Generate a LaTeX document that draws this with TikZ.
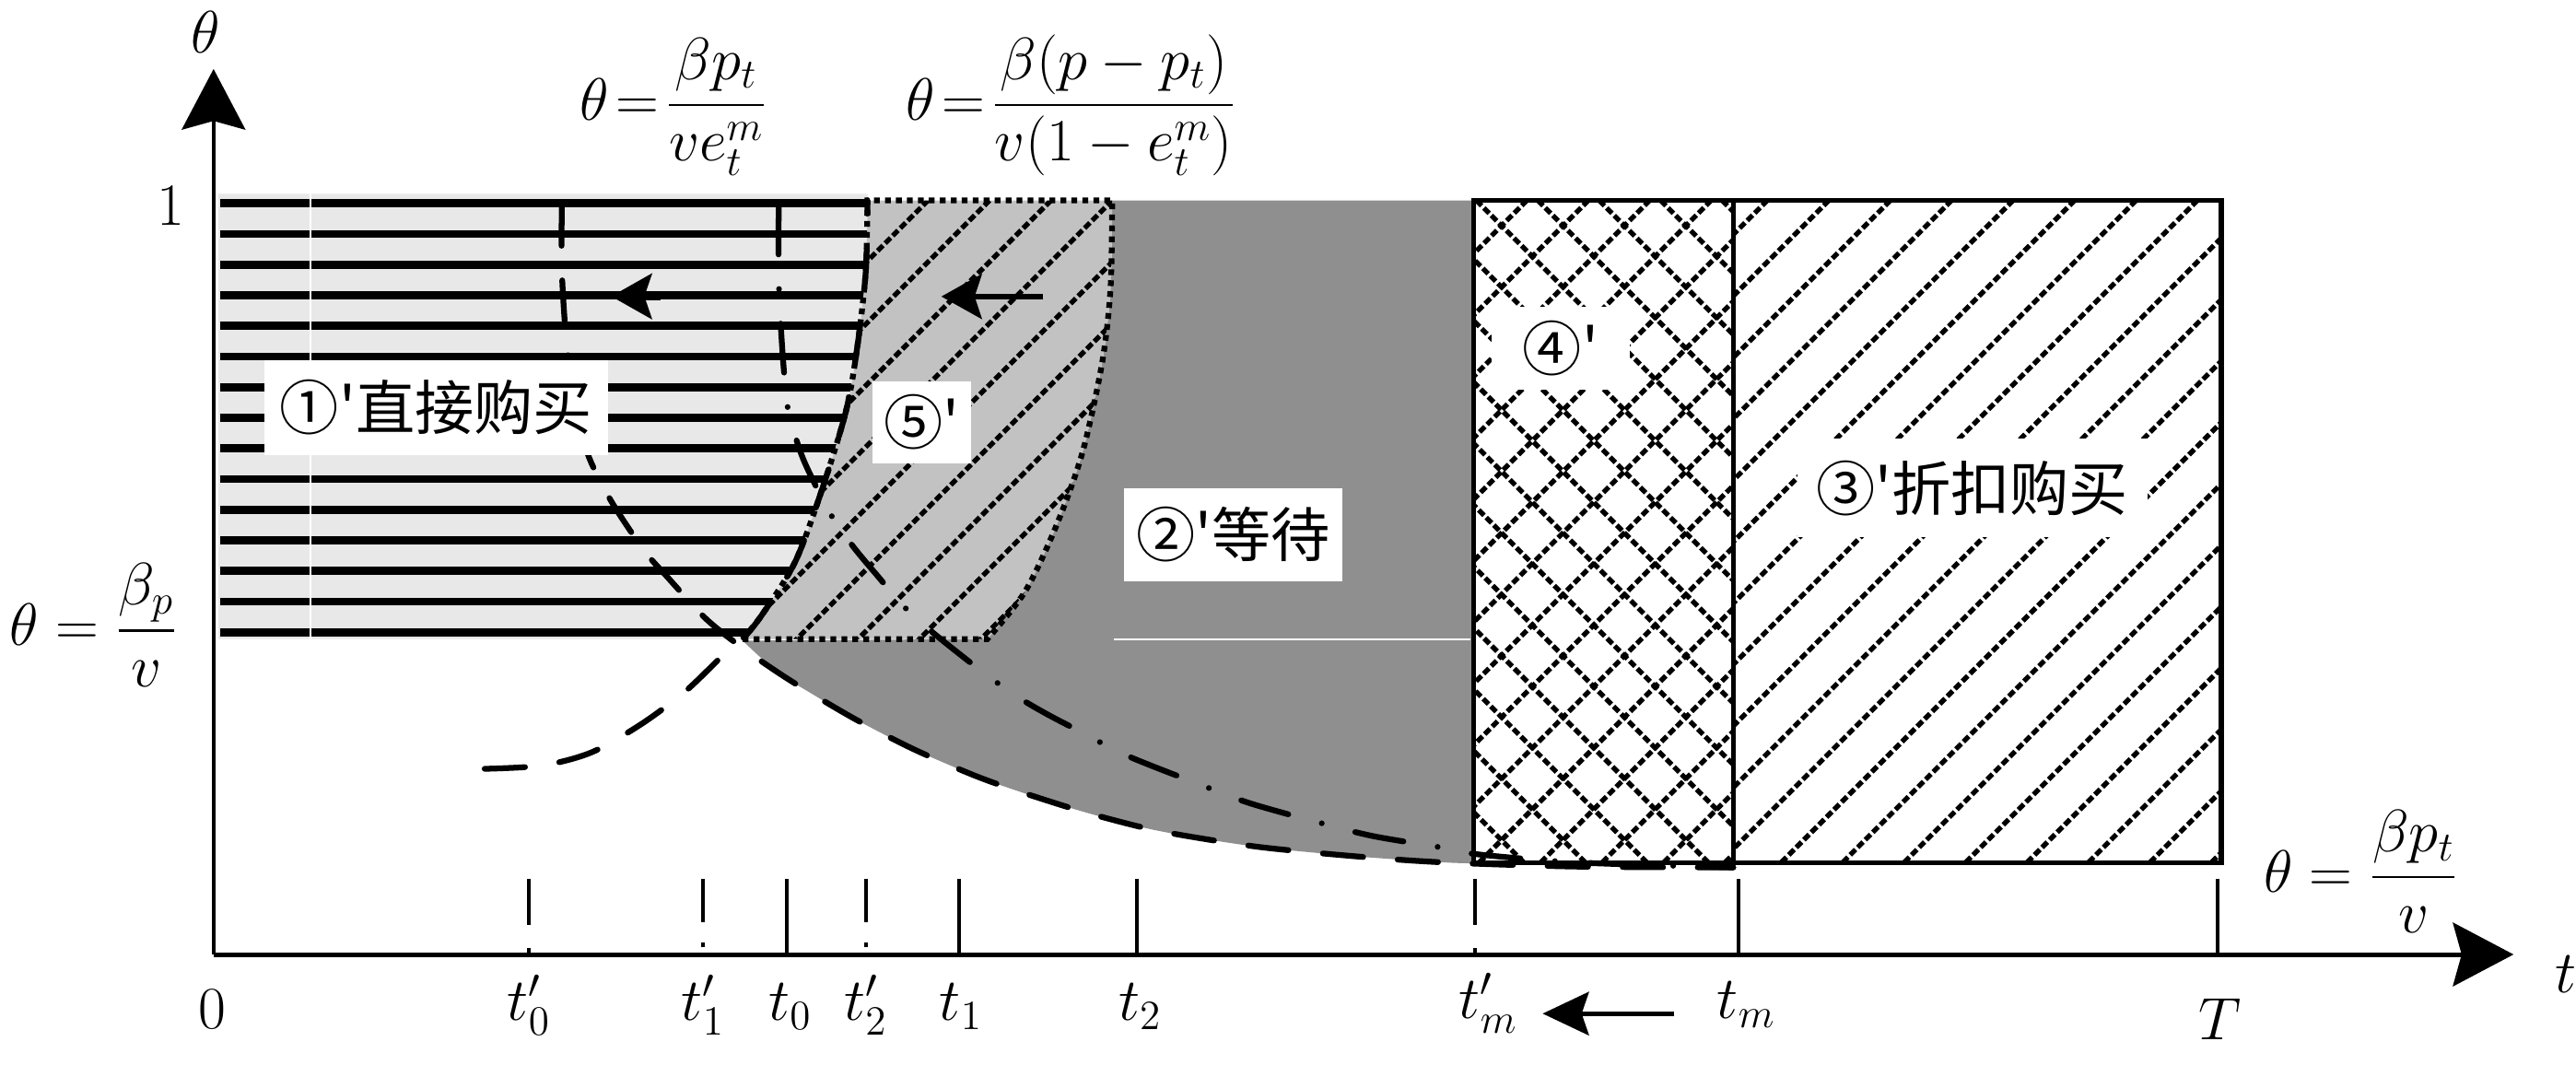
\documentclass[tikz,border=0pt]{standalone}
\usepackage{amsmath}
\usepackage{fontspec}
\newfontfamily\cjk{Noto Sans CJK SC}
\usetikzlibrary{arrows.meta}
\definecolor{lightg}{gray}{0.91}
\definecolor{midg}{gray}{0.76}
\definecolor{darkg}{gray}{0.56}
\begin{document}
\begin{tikzpicture}[x=0.02cm,y=-0.02cm,
  lbl/.style={fill=white, inner sep=0pt, font=\cjk\fontsize{20.5}{24}\selectfont},
  mth/.style={inner sep=0pt, font=\huge},
  hatch/.style={line width=1.7pt, dash pattern=on 2.6pt off 1.1pt},
  thickrule/.style={line width=2.8pt},
  longdash/.style={line width=2pt, line cap=round, dash pattern=on 14pt off 12pt},
  dashdot/.style={line width=2pt, line cap=round, dash pattern=on 17pt off 12pt on 0pt off 12pt},
  dotborder/.style={line width=2pt, dash pattern=on 2pt off 1.8pt},
  tickline/.style={line width=1.3pt},
  primetick/.style={line width=1.3pt, dash pattern=on 16pt off 8pt},
  primetickdd/.style={line width=1.3pt, dash pattern=on 15pt off 7pt on 1.5pt off 10pt},
  boxline/.style={line width=1.7pt},
  bigarrow/.style={-{Stealth[length=21pt,width=22pt,inset=3pt]}},
  midarrow/.style={-{Stealth[length=14pt,width=15.5pt,inset=2.5pt]}}
]
\useasboundingbox (0,0) rectangle (1568,648);
\fill[white] (0,0) rectangle (1568,648);

% ---------- region 1 (light grey, horizontal rules)
\fill[lightg] (133,118) -- (528,118) -- plot[smooth] coordinates {(528,122) (527,165) (522,210) (515,250) (500,299) (484,342) (464,374) (452,389)} -- (133,389) -- cycle;
\begin{scope}
  \clip (133,118) -- (528,118) -- plot[smooth] coordinates {(528,122) (527,165) (522,210) (515,250) (500,299) (484,342) (464,374) (452,389)} -- (133,389) -- cycle;
  \foreach \i in {0,...,14} {\draw[thickrule] (134,{123.8+18.65*\i}) -- (545,{123.8+18.65*\i});}
\end{scope}
\draw[white, line width=0.5pt] (189,118) -- (189,389);

% ---------- region 2 (dark grey)
\fill[darkg] (677,122) -- (897,122) -- (897,525.5) -- plot[smooth] coordinates {(897,525.5) (880,525) (828,521.5) (770,516) (729,510) (697,504) (659,494) (621,482) (593,472) (556,456) (521,438) (492,421) (473,409) (452,390)} -- (601,389) -- plot[smooth] coordinates {(601,389) (624,360) (643,320) (659,275) (671,220) (676,175) (677,122)} -- cycle;
\draw[white, line width=0.6pt] (678,389) -- (895,389);

% ---------- region 5 (mid grey, dotted hatch)
\fill[midg] plot[smooth] coordinates {(452,389) (464,374) (484,342) (500,299) (515,250) (522,210) (527,165) (528,122)} -- plot[smooth] coordinates {(677,122) (676,175) (671,220) (659,275) (643,320) (624,360) (601,389)} -- cycle;
\begin{scope}
  \clip plot[smooth] coordinates {(452,389) (464,374) (484,342) (500,299) (515,250) (522,210) (527,165) (528,122)} -- plot[smooth] coordinates {(677,122) (676,175) (671,220) (659,275) (643,320) (624,360) (601,389)} -- cycle;
  \foreach \k in {16,...,28} {\draw[hatch] ({13.7+37.4*\k-525},525) -- ({13.7+37.4*\k-122},122);}
\end{scope}
\draw[dotborder] plot[smooth] coordinates {(452,389) (464,374) (484,342) (500,299) (515,250) (522,210) (527,165) (528,122)} -- plot[smooth] coordinates {(677,122) (676,175) (671,220) (659,275) (643,320) (624,360) (601,389)} -- cycle;

% ---------- region 4 (lattice) and region 3 (diagonal)
\begin{scope}
  \clip (897,122) rectangle (1055,525);
  \foreach \k in {26,...,43} {\draw[hatch] ({4.2+37.4*\k-525},525) -- ({4.2+37.4*\k-122},122);}
  \foreach \k in {8,...,25} {\draw[hatch] ({28.6+37.4*\k+122},122) -- ({28.6+37.4*\k+525},525);}
\end{scope}
\begin{scope}
  \clip (1055,122) rectangle (1352,525);
  \foreach \k in {30,...,51} {\draw[hatch] ({1+37.4*\k-525},525) -- ({1+37.4*\k-122},122);}
\end{scope}
\draw[boxline] (897,122) rectangle (1352,525);
\draw[boxline] (1055,122) -- (1055,525);

% ---------- curves
\draw[longdash] plot[smooth] coordinates {(295,468) (330,466) (360,458) (390,441) (417,421) (440,399) (452,389) (464,374) (484,342) (500,299) (515,250) (522,210) (527,165) (528,122)};
\draw[longdash] plot[smooth] coordinates {(342,125) (342,165) (345,210) (351,248) (358,277) (372,305) (392,335) (406,351) (429,376) (450,393) (473,409) (492,421) (521,438) (556,456) (593,472) (621,482) (659,494) (697,504) (729,510) (770,516) (828,521.5) (880,525) (960,527.5) (1055,528)};
\draw[dashdot] plot[smooth] coordinates {(474,125) (474,170) (476,210) (479,245) (483,262) (490,282) (505,312) (518,331) (532,348) (555,374) (589,402) (616,422) (636,434) (657,445) (686,460) (729,477) (761,489) (804,501) (836,509) (878,516) (899,520) (960,525) (1055,528)};

% ---------- arrows inside regions
\coordinate (a1s) at (402,180.4);
\coordinate (a1e) at (372,180.4);
\draw[thickrule, midarrow] (a1s) -- (a1e);
\coordinate (a5s) at (635,180.5);
\coordinate (a5e) at (573,180.5);
\draw[line width=1.8pt, midarrow] (a5s) -- (a5e);

% ---------- region labels
\node[lbl, minimum width=4.18cm, minimum height=1.16cm] (r1) at (265.5,248) {①'直接购买};
\node[lbl, minimum width=1.2cm, minimum height=1.0cm] (r5) at (561,257) {⑤'};
\node[lbl, minimum width=2.66cm, minimum height=1.14cm] (r2) at (750.5,325.5) {②'等待};
\node[lbl, minimum width=1.68cm, minimum height=1.0cm] (r4) at (950,212) {④'};
\node[lbl, minimum width=4.26cm, minimum height=1.2cm] (r3) at (1200.5,297) {③'折扣购买};

% ---------- axes
\coordinate (O) at (130,581);
\coordinate (ytip) at (130,42);
\coordinate (xtip) at (1530,581);
\draw[line width=1.3pt, bigarrow] (O) -- (ytip);
\draw[line width=1.6pt, bigarrow] (O) -- (xtip);

% ---------- ticks
\foreach \x in {479,584,692,1058,1350} {\draw[tickline] (\x,535) -- (\x,581);}
\foreach \x in {322,898} {\draw[primetick] (\x,535) -- (\x,581);}
\foreach \x in {428,527} {\draw[primetickdd] (\x,535) -- (\x,581);}

% ---------- tick labels
\node[mth, anchor=base] (l0) at (129,626) {$0$};
\node[mth, anchor=base] (lt0p) at (322,621) {$t'_0$};
\node[mth, anchor=base] (lt1p) at (428,621) {$t'_1$};
\node[mth, anchor=base] (lt0) at (481,621) {$t_0$};
\node[mth, anchor=base] (lt2p) at (527,621) {$t'_2$};
\node[mth, anchor=base] (lt1) at (585,621) {$t_1$};
\node[mth, anchor=base] (lt2) at (694,621) {$t_2$};
\node[mth, anchor=base] (ltmp) at (906,620) {$t'_m$};
\node[mth, anchor=base] (ltm) at (1063,620) {$t_m$};
\node[mth, anchor=base] (lT) at (1351,633) {$T$};
\coordinate (bas) at (1019,617);
\coordinate (bae) at (939,617);
\draw[line width=1.6pt, -{Stealth[length=16pt,width=15pt,inset=2.5pt]}] (bas) -- (bae);

% ---------- axis labels and formulas
\node[mth, anchor=base] (ytheta) at (125,32) {$\theta$};
\node[mth, anchor=base] (xt) at (1562,604) {$t$};
\node[mth, anchor=base] (one) at (104,137) {$1$};
\node[mth, anchor=base] (f0) at (57,393) {$\theta=\dfrac{\beta_p}{v}$};
\node[mth, anchor=base] (f1) at (410,73) {$\theta\!=\!\dfrac{\beta p_t}{ve_t^m}$};
\node[mth, anchor=base] (f2) at (652,73) {$\theta\!=\!\dfrac{\beta(p-p_t)}{v(1-e_t^m)}$};
\node[mth, anchor=base] (f3) at (1437,543) {$\theta=\dfrac{\beta p_t}{v}$};
\end{tikzpicture}
\end{document}
